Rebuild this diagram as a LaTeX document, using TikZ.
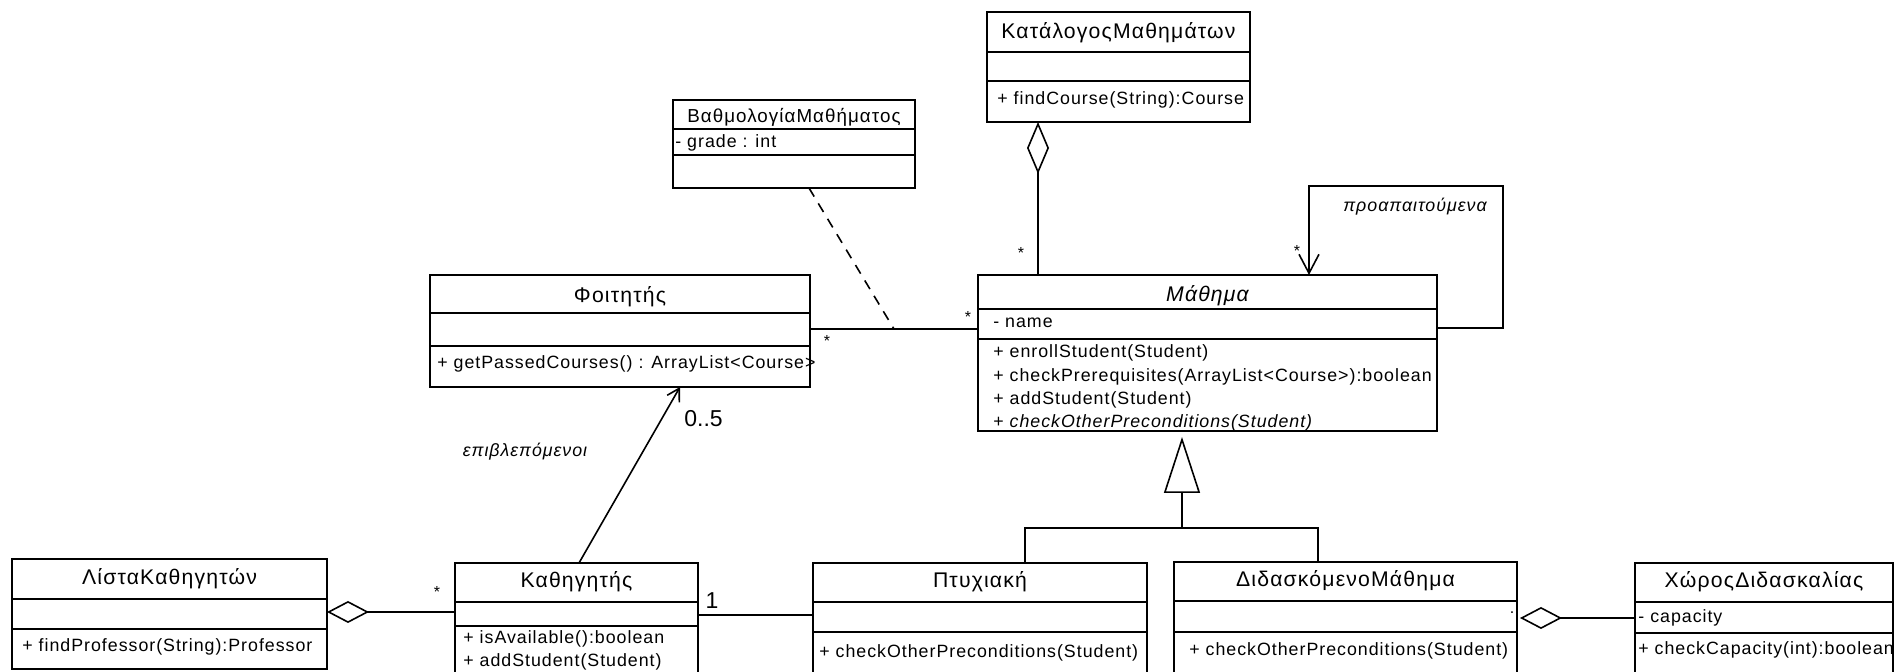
\documentclass[tikz,border=0pt]{standalone}
\usepackage{fontspec}
\setmainfont{Liberation Sans}
\newfontfamily\umlfont[LetterSpace=5.5]{Liberation Sans}
\usetikzlibrary{arrows.meta}

\newcommand\memfont{\umlfont\fontsize{8.9}{10}\selectfont}
\newcommand\ttlfont{\umlfont\fontsize{10.6}{12}\selectfont}
\newcommand\smallttlfont{\umlfont\fontsize{9.4}{11}\selectfont}
\newcommand\multfont{\fontsize{11.5}{13}\selectfont}
\newcommand\starfont{\fontsize{8}{9}\selectfont}

% class outline: name, left, top, right, bottom
\newcommand\classbox[5]{%
  \node[classrect, minimum width={(#4-#2)*0.5pt}, minimum height={(#5-#3)*0.5pt}] (#1) at (#2,#3) {};}
% compartment separator inside a class: name, y
\newcommand\compsep[2]{\draw[boxline] (#1.west |- 0,#2) -- (#1.east |- 0,#2);}

\begin{document}
\begin{tikzpicture}[x=0.5pt, y=-0.5pt,
  classrect/.style={draw, line width=0.8pt, anchor=north west, inner sep=0pt, outer sep=0pt},
  boxline/.style={line width=0.8pt},
  ttl/.style={font=\ttlfont, inner sep=0pt},
  mem/.style={font=\memfont, anchor=west, inner sep=0pt},
  conn/.style={line width=0.8pt},
  star/.style={font=\starfont, inner sep=0pt},
  mult/.style={font=\multfont, inner sep=0pt},
  role/.style={font=\memfont\itshape, inner sep=0pt},
]
\useasboundingbox (0,0) rectangle (1897,672);
\clip (0,0) rectangle (1897,672);

% ---------- classes ----------
\classbox{katalogos}{987}{12}{1250}{122}
\compsep{katalogos}{52}\compsep{katalogos}{81}
\node[ttl] (katalogos-t) at (1118.5,33) {ΚατάλογοςΜαθημάτων};
\node[mem] (katalogos-m1) at (997,100) {+ findCourse(String):Course};

\classbox{vathmologia}{673}{100}{915}{188}
\compsep{vathmologia}{129}\compsep{vathmologia}{155}
\node[ttl, font=\smallttlfont] (vathmologia-t) at (794,117) {ΒαθμολογίαΜαθήματος};
\node[mem] (vathmologia-a1) at (675,143) {- grade : int};

\classbox{foititis}{430}{275}{810}{387}
\compsep{foititis}{313}\compsep{foititis}{346}
\node[ttl] (foititis-t) at (620,297) {Φοιτητής};
\node[mem] (foititis-m1) at (437,364) {+ getPassedCourses() : ArrayList<Course>};

\classbox{mathima}{978}{275}{1437}{431}
\compsep{mathima}{309}\compsep{mathima}{339}
\node[ttl] (mathima-t) at (1207.5,296) {\itshape Μάθημα};
\node[mem] (mathima-a1) at (993,323) {- name};
\node[mem] (mathima-m1) at (993,353) {+ enrollStudent(Student)};
\node[mem] (mathima-m2) at (993,377) {+ checkPrerequisites(ArrayList<Course>):boolean};
\node[mem] (mathima-m3) at (993,400) {+ addStudent(Student)};
\node[mem] (mathima-m4) at (993,423) {+ \itshape checkOtherPreconditions(Student)};

\classbox{lista}{12}{559}{327}{669}
\compsep{lista}{599}\compsep{lista}{629}
\node[ttl] (lista-t) at (169.5,579) {ΛίσταΚαθηγητών};
\node[mem] (lista-m1) at (22,647) {+ findProfessor(String):Professor};

\classbox{kathigitis}{455}{563}{698}{700}
\compsep{kathigitis}{602}\compsep{kathigitis}{626}
\node[ttl] (kathigitis-t) at (576.5,582) {Καθηγητής};
\node[mem] (kathigitis-m1) at (463,639) {+ isAvailable():boolean};
\node[mem] (kathigitis-m2) at (463,662) {+ addStudent(Student)};

\classbox{ptyxiaki}{813}{563}{1147}{700}
\compsep{ptyxiaki}{602}\compsep{ptyxiaki}{632}
\node[ttl] (ptyxiaki-t) at (980,582) {Πτυχιακή};
\node[mem] (ptyxiaki-m1) at (819,653) {+ checkOtherPreconditions(Student)};

\classbox{didaskomeno}{1174}{562}{1517}{700}
\compsep{didaskomeno}{601}\compsep{didaskomeno}{632}
\node[ttl] (didaskomeno-t) at (1345.5,581) {ΔιδασκόμενοΜάθημα};
\node[mem] (didaskomeno-m1) at (1189,651) {+ checkOtherPreconditions(Student)};

\classbox{xwros}{1635}{563}{1893}{700}
\compsep{xwros}{602}\compsep{xwros}{633}
\node[ttl] (xwros-t) at (1764,582) {ΧώροςΔιδασκαλίας};
\node[mem] (xwros-a1) at (1638,618) {- capacity};
\node[mem] (xwros-m1) at (1638,650) {+ checkCapacity(int):boolean};

% ---------- relations ----------
% catalogue aggregates courses
\draw[conn, {Diamond[open, length=26pt, width=11pt]}-] (katalogos.south -| 1038,0) -- (mathima.north -| 1038,0);
\node[star] (star-kat) at (1021,253) {*};

% student -- course association with its association class
\draw[conn] (foititis.east |- 0,329) -- (mathima.west |- 0,329);
\node[star] (star-foit) at (827,341) {*};
\node[star] (star-math) at (968,317) {*};
\coordinate (assocmid) at (894,329);
\draw[conn, dash pattern=on 5pt off 4pt] (vathmologia.south -| 809,0) -- (assocmid);

% prerequisites (self association)
\draw[conn, -{Straight Barb[length=9.5pt, width=10pt]}]
  (mathima.east |- 0,328) -- (1503,328) -- (1503,186) -- (1309,186) -- (mathima.north -| 1309,0);
\node[star] (star-self) at (1297,251) {*};
\node[role] (role-self) at (1415,207) {προαπαιτούμενα};

% generalisation tree
\coordinate (genjoin) at (1182,528);
\draw[conn] (ptyxiaki.north -| 1025,0) -- (1025,528) -- (1318,528) -- (didaskomeno.north -| 1318,0);
\draw[conn, shorten >=3pt, -{Triangle[open, length=28pt, width=18pt]}] (genjoin) -- (mathima.south -| genjoin);

% supervised students
\draw[conn, -{Straight Barb[length=6pt, width=7pt]}] (kathigitis.north -| 579,0) -- (foititis.south -| 680,0);
\node[mult, anchor=west] (mult-05) at (684,419) {0..5};
\node[role] (role-sup) at (525,452) {επιβλεπόμενοι};

% professor list aggregation
\draw[conn, {Diamond[open, length=21pt, width=11pt]}-] (lista.east |- 0,612) -- (kathigitis.west |- 0,612);
\node[star] (star-lista) at (437,592) {*};

% professor -- thesis
\draw[conn] (kathigitis.east |- 0,615) -- (ptyxiaki.west |- 0,615);
\node[mult] (mult-1) at (712,601) {1};

% teaching room aggregation
\draw[conn, shorten <=1.5pt, {Diamond[open, length=21pt, width=11pt]}-] (didaskomeno.east |- 0,618) -- (xwros.west |- 0,618);
\node[star] (dot-did) at (1512,613) {.};
\end{tikzpicture}
\end{document}
